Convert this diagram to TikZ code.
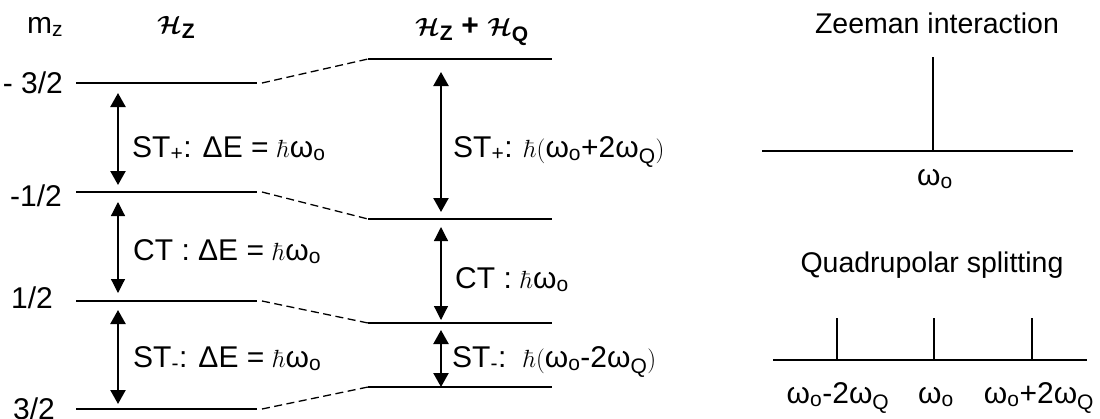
\documentclass[tikz,border=0pt]{standalone}
\usepackage{amsmath}
\usepackage[no-math]{fontspec}
\setmainfont{Liberation Sans}
\usetikzlibrary{arrows.meta}
\newcommand{\hb}{{\fontsize{34}{34}\selectfont$\hbar$}}
\begin{document}
\begin{tikzpicture}[x=1pt,y=-1pt,
  lvl/.style={line width=2.5pt},
  dsh/.style={line width=1.3pt, dash pattern=on 8pt off 4.5pt},
  thk/.style={line width=2.3pt, {Triangle[length=14pt,width=15pt]}-{Triangle[length=14pt,width=15pt]}},
  thn/.style={line width=1.2pt, {Triangle[length=14pt,width=14pt]}-{Triangle[length=14pt,width=14pt]}},
  lab/.style={font=\fontsize{30}{34}\selectfont, inner sep=0pt},
  ttl/.style={font=\fontsize{28.5}{32}\selectfont, inner sep=0pt},
  spec/.style={line width=2pt},
  pk/.style={line width=1.5pt}]
\useasboundingbox (0,0) rectangle (1100,418);
% headers
\node[lab, anchor=base west] (mz) at (27,33) {m\textsubscript{z}};
\node[lab, anchor=base west] (hz) at (157,33) {$\boldsymbol{\mathcal{H}}$\textsubscript{\textbf{Z}}};
\node[lab, anchor=base west] (hzq) at (415,35) {$\boldsymbol{\mathcal{H}}$\textsubscript{\textbf{Z}} \textbf{+} $\boldsymbol{\mathcal{H}}$\textsubscript{\textbf{Q}}};
% left levels
\coordinate (L1a) at (76,83);  \coordinate (L1b) at (257,83);
\coordinate (L2a) at (76,192); \coordinate (L2b) at (257,192);
\coordinate (L3a) at (76,301); \coordinate (L3b) at (257,301);
\coordinate (L4a) at (76,409); \coordinate (L4b) at (257,409);
\draw[lvl] (L1a) -- (L1b);
\draw[lvl] (L2a) -- (L2b);
\draw[lvl] (L3a) -- (L3b);
\draw[lvl] (L4a) -- (L4b);
% right levels
\coordinate (R1a) at (368,59);  \coordinate (R1b) at (552,59);
\coordinate (R2a) at (368,219); \coordinate (R2b) at (552,219);
\coordinate (R3a) at (368,323); \coordinate (R3b) at (552,323);
\coordinate (R4a) at (368,387); \coordinate (R4b) at (552,387);
\draw[lvl] (R1a) -- (R1b);
\draw[lvl] (R2a) -- (R2b);
\draw[lvl] (R3a) -- (R3b);
\draw[lvl] (R4a) -- (R4b);
% dashed correlation lines
\draw[dsh] ([xshift=5pt]L1b) -- (R1a);
\draw[dsh] ([xshift=5pt]L2b) -- (R2a);
\draw[dsh] ([xshift=5pt]L3b) -- (R3a);
\draw[dsh] ([xshift=5pt]L4b) -- (R4a);
% level labels
\node[lab, anchor=base east] (m1) at (63,93) {- 3/2};
\node[lab, anchor=base east] (m2) at (62,206) {-1/2};
\node[lab, anchor=base east] (m3) at (53,308) {1/2};
\node[lab, anchor=base east] (m4) at (55,419) {3/2};
% left arrows
\coordinate (A1t) at (118,93);  \coordinate (A1b) at (118,185);
\coordinate (A2t) at (118,202); \coordinate (A2b) at (118,293);
\coordinate (A3t) at (118,310); \coordinate (A3b) at (118,404);
\draw[thk] (A1t) -- (A1b);
\draw[thn] (A2t) -- (A2b);
\draw[thk] (A3t) -- (A3b);
% right arrows
\coordinate (B1t) at (441,72);  \coordinate (B1b) at (441,212);
\coordinate (B2t) at (441,227); \coordinate (B2b) at (441,320);
\coordinate (B3t) at (441,330); \coordinate (B3b) at (441,387);
\draw[thk] (B1t) -- (B1b);
\draw[thn] (B2t) -- (B2b);
\draw[thk] (B3t) -- (B3b);
% transition labels
\node[lab, anchor=base west] (t1) at (132,157) {ST\textsubscript{+}: ΔE = \hb ω\textsubscript{o}};
\node[lab, anchor=base west] (t2) at (133,260) {CT : ΔE = \hb ω\textsubscript{o}};
\node[lab, anchor=base west] (t3) at (133,367) {ST\textsubscript{-}: ΔE = \hb ω\textsubscript{o}};
\node[lab, anchor=base west] (u1) at (453,157) {ST\textsubscript{+}: \hb$($ω\textsubscript{o}+2ω\textsubscript{Q}$)$};
\node[lab, anchor=base west] (u2) at (455,288) {CT : \hb ω\textsubscript{o}};
\node[lab, anchor=base west] (u3) at (452,367) {ST\textsubscript{-}:\ \ \hb$($ω\textsubscript{o}-2ω\textsubscript{Q}$)$};
% Zeeman spectrum
\node[ttl, anchor=base] (zt) at (937,33) {Zeeman interaction};
\coordinate (Z0) at (762,151); \coordinate (Z1) at (1073,151);
\coordinate (Zp) at (933,57); \coordinate (Zb) at (933,151);
\draw[spec] (Z0) -- (Z1);
\draw[pk] (Zp) -- (Zb);
\node[lab, anchor=base] (zw) at (935,185) {ω\textsubscript{o}};
% Quadrupolar spectrum
\node[ttl, anchor=base] (qt) at (932,272) {Quadrupolar splitting};
\coordinate (Q0) at (773,360); \coordinate (Q1) at (1087,360);
\draw[spec] (Q0) -- (Q1);
\coordinate (P1) at (837,318); \coordinate (P1b) at (837,360);
\coordinate (P2) at (934,318); \coordinate (P2b) at (934,360);
\coordinate (P3) at (1032,318); \coordinate (P3b) at (1032,360);
\draw[pk] (P1) -- (P1b);
\draw[pk] (P2) -- (P2b);
\draw[pk] (P3) -- (P3b);
\node[lab, anchor=base] (q1) at (838,403) {ω\textsubscript{o}-2ω\textsubscript{Q}};
\node[lab, anchor=base] (q2) at (936,403) {ω\textsubscript{o}};
\node[lab, anchor=base] (q3) at (1039,403) {ω\textsubscript{o}+2ω\textsubscript{Q}};
\end{tikzpicture}
\end{document}
